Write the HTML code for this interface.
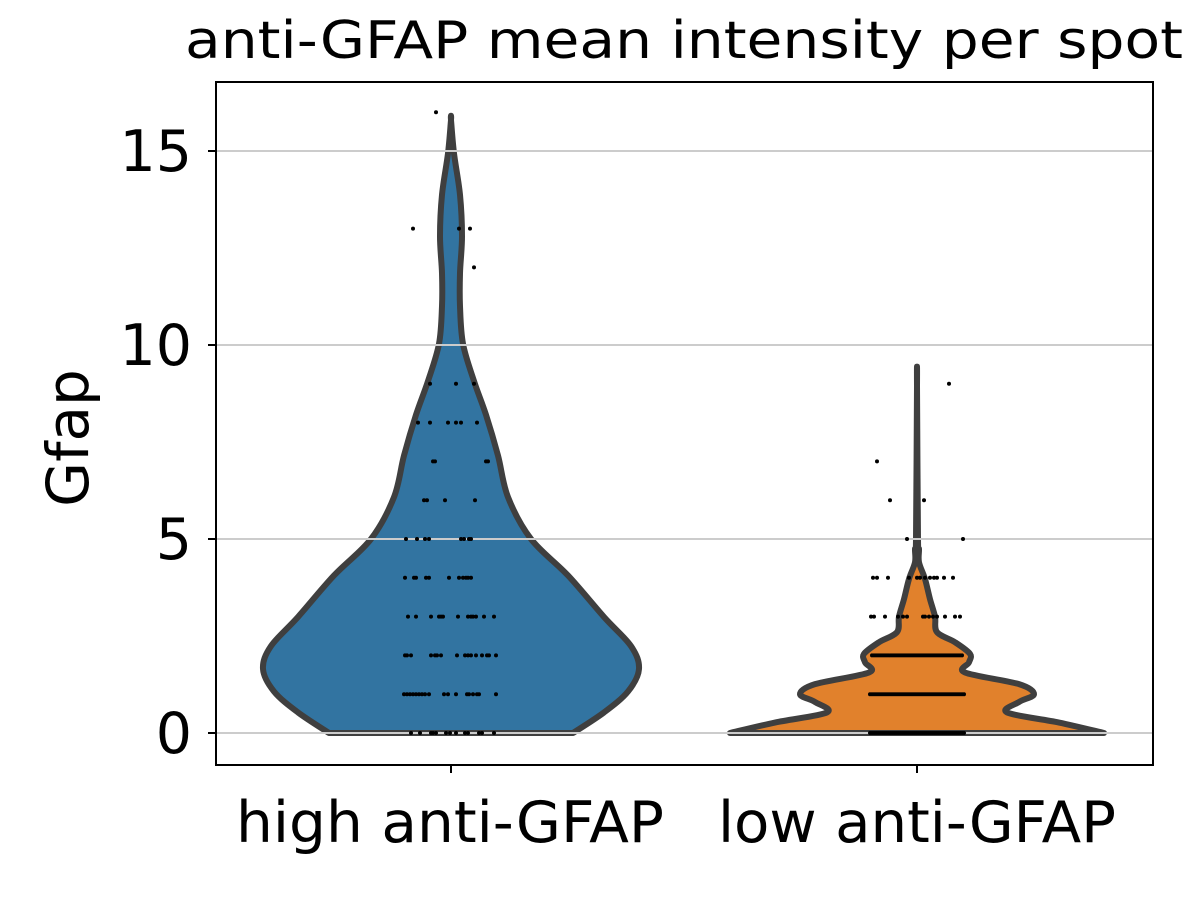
<!DOCTYPE html>
<html><head><meta charset="utf-8">
<style>html,body{margin:0;padding:0;background:#fff;width:1200px;height:900px;overflow:hidden}
text{font-family:"DejaVu Sans","Liberation Sans",sans-serif;fill:#000}</style></head>
<body>
<svg id="chart" width="1200" height="900" viewBox="0 0 1200 900" xmlns="http://www.w3.org/2000/svg">
<rect width="1200" height="900" fill="#fff"/>
<text x="684" y="58" font-size="52" text-anchor="middle" textLength="998" lengthAdjust="spacingAndGlyphs">anti-GFAP mean intensity per spot</text>
<g id="violins"></g>
<g id="grid"></g>
<g id="points"></g>
<rect x="216" y="82" width="937" height="683" fill="none" stroke="#000" stroke-width="2"/>
<g id="axes"></g>
<text transform="translate(88,438) rotate(-90)" font-size="58" text-anchor="middle">Gfap</text>
</svg>
<script>
const categories = ["high anti-GFAP", "low anti-GFAP"];
const labelWidths = [428, 398];
const colors = ["#3274a1", "#e1812c"];
const yTicks = [0, 5, 10, 15];
// violin outline: value levels and half-widths (density, px)
const highLevels = [0,0.53,1.07,1.65,2.24,2.99,4.06,5.0,6.08,7.15,8.2,9.07,10.03,11,11.85,12.8,13.87,14.94,15.8];
const highWidths = [122,153,177,188,180,153,117,80,57,47,35,23,12,9,9,11,9,3,0];
const lowLevels = [0,0.27,0.53,0.8,1.0,1.26,1.56,1.82,2.04,2.34,2.6,3.0,3.45,3.97,4.4,4.74,5,8.95];
const lowWidths = [187,142,90,102,117,102,48,52,53,38,20,18,13,8,2,2,1,0];
// strip points: values and jitter offsets
const highValues = [16,13,13,13,12,9,9,9,8,8,8,8,8,8,7,7,7,7,6,6,6,6,5,5,5,5,5,5,5,5,4,4,4,4,4,4,4,4,4,4,4,3,3,3,3,3,3,3,3,3,3,3,3,3,2,2,2,2,2,2,2,2,2,2,2,2,2,2,2,2,1,1,1,1,1,1,1,1,1,1,1,1,1,1,1,1,1,1,0,0,0,0,0,0,0,0,0,0,0,0,0];
const highJitter = [-15,-38,8,19,23,-21,5,23,-33,-21,-3,5,10,26,-18,-16,35,37,-27,-24,-6,24,-45,-34,-26,-22,10,13,18,20,-46,-37,-35,-25,-22,-2,8,12,15,17,20,-43,-35,-20,-12,-10,-8,7,17,20,22,25,33,43,-46,-44,-40,-20,-16,-14,-10,6,14,17,20,25,31,36,38,45,-47,-44,-41,-38,-35,-32,-29,-26,-22,-7,-3,5,16,18,22,26,28,45,-40,-31,-20,-18,-15,-5,-1,5,14,17,28,31,43];
const lowValues = [9,7,6,6,5,5,4,4,4,4,4,4,4,4,4,4,4,4,3,3,3,3,3,3,3,3,3,3,3,3,3,3];
const lowJitter = [32,-40,-27,7,-10,46,-44,-40,-29,-8,0,3,8,13,17,20,27,36,-46,-43,-32,-19,-14,-10,6,8,12,16,20,28,38,43];
const lowDenseRows = [2,1,0];
const lowDenseHalfSpan = [45,47,47];

const NS="http://www.w3.org/2000/svg";
const yPx = v => 733 - v*38.8;
const xCenter = i => 451 + i*466;
function mk(tag, attrs, parent){const e=document.createElementNS(NS,tag);for(const k in attrs)e.setAttribute(k,attrs[k]);parent.appendChild(e);return e;}
const gV=document.getElementById('violins'),gG=document.getElementById('grid'),gP=document.getElementById('points'),gA=document.getElementById('axes');

function violin(i, levels, widths){
  const cx=xCenter(i);
  let right=levels.map((v,k)=>[cx+widths[k], yPx(v)]);
  let left=levels.map((v,k)=>[cx-widths[k], yPx(v)]).reverse();
  const pts=right.concat(left);
  let d="M"+pts[0][0]+","+pts[0][1];
  for(let k=0;k<pts.length-1;k++){
    const p0=pts[Math.max(k-1,0)],p1=pts[k],p2=pts[k+1],p3=pts[Math.min(k+2,pts.length-1)];
    const c1=[p1[0]+(p2[0]-p0[0])/6,p1[1]+(p2[1]-p0[1])/6];
    const c2=[p2[0]-(p3[0]-p1[0])/6,p2[1]-(p3[1]-p1[1])/6];
    d+=` C${c1[0]},${c1[1]} ${c2[0]},${c2[1]} ${p2[0]},${p2[1]}`;
  }
  d+="Z";
  const p=mk('path',{d:d,fill:colors[i],stroke:'#3f3f3f','stroke-width':6,'stroke-linejoin':'round'},gV);
  
  
}
violin(0,highLevels,highWidths);
violin(1,lowLevels,lowWidths);

yTicks.forEach(t=>{
  const l=mk('line',{x1:216,x2:1153,y1:yPx(t),y2:yPx(t),stroke:'#cccccc','stroke-width':2},gG);
  
  
  const tk=mk('line',{x1:208,x2:216,y1:yPx(t),y2:yPx(t),stroke:'#000','stroke-width':2},gA);
  
  
  const tx=mk('text',{x:192,y:yPx(t)+20,'font-size':57,'text-anchor':'end'},gA);
  tx.textContent=t;
  
  
});
categories.forEach((c,i)=>{
  const tk=mk('line',{x1:xCenter(i),x2:xCenter(i),y1:765,y2:773,stroke:'#000','stroke-width':2},gA);
  
  
  const tx=mk('text',{x:xCenter(i)-(i===0?1:0),y:842,'font-size':57,'text-anchor':'middle',textLength:labelWidths[i],lengthAdjust:'spacingAndGlyphs'},gA);
  tx.textContent=c;
  
  
});
function dot(i,v,j){
  const c=mk('circle',{cx:xCenter(i)+j,cy:yPx(v),r:2,fill:'#000'},gP);
  
  
}
highValues.forEach((v,k)=>dot(0,v,highJitter[k]));
lowValues.forEach((v,k)=>dot(1,v,lowJitter[k]));
lowDenseRows.forEach((v,k)=>{for(let j=-lowDenseHalfSpan[k];j<=lowDenseHalfSpan[k];j+=2)dot(1,v,j);});
</script>
</body></html>
